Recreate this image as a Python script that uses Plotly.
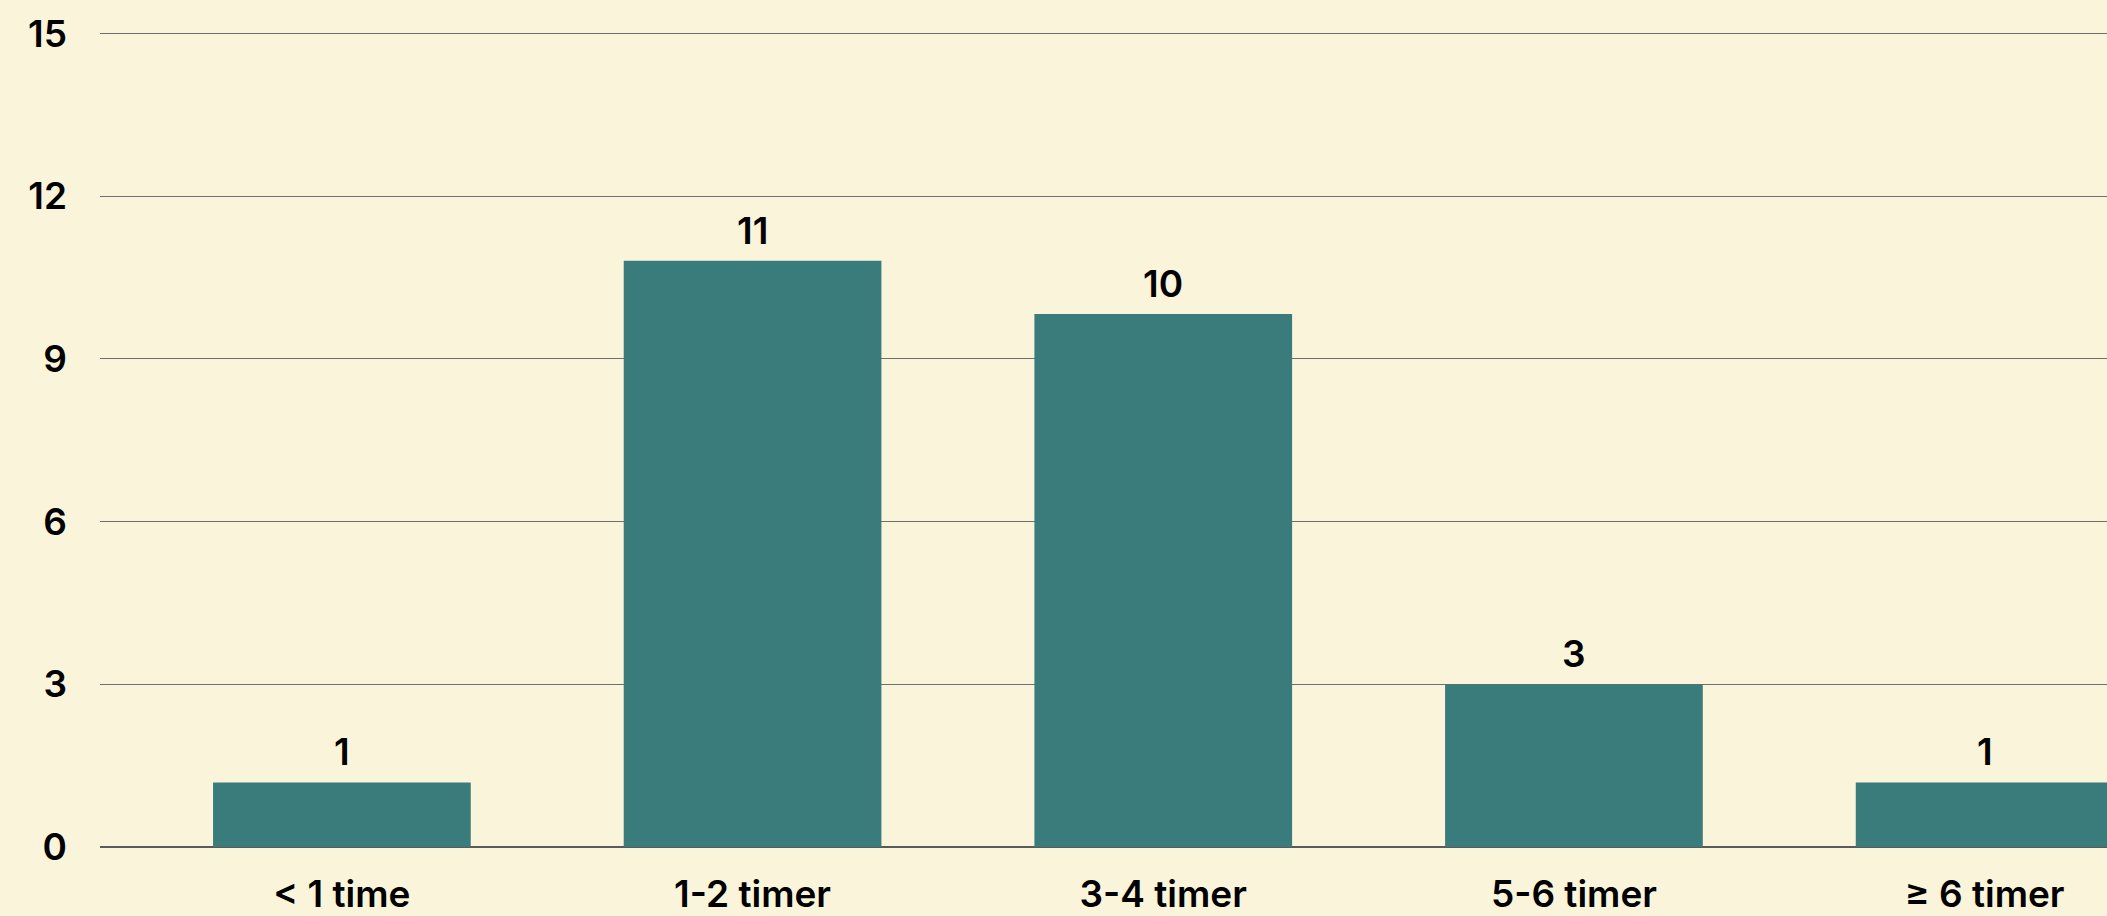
import plotly.graph_objects as go

categories = ["< 1 time", "1-2 timer", "3-4 timer", "5-6 timer", "≥ 6 timer"]
values = [1.19, 10.81, 9.83, 3.0, 1.19]
y_ticks = [0, 3, 6, 9, 12, 15]

BG = "#FAF5DA"
BAR = "#3A7C7C"
FONT = "Inter"
FS = 37

fig = go.Figure(go.Bar(
    x=categories, y=values, marker=dict(color=BAR, line=dict(width=0)),
    hoverinfo="skip",
))

for c, v in zip(categories, values):
    fig.add_annotation(x=c, y=v, text=f"{v:.0f}", showarrow=False,
                       yanchor="bottom", yshift=6,
                       font=dict(family=FONT, size=FS, color="#000000", weight=600))

fig.update_layout(
    width=2107, height=916,
    margin=dict(l=100, r=0, t=32, b=69, pad=0),
    paper_bgcolor=BG, plot_bgcolor=BG,
    bargap=0.3725,
    showlegend=False,
    font=dict(family=FONT, size=FS, color="#000000", weight=600),
    xaxis=dict(range=[-0.589, 4.298], showgrid=False, showline=False,
               ticks="", ticklabelstandoff=22, automargin=False,
               tickfont=dict(family=FONT, size=FS, color="#000000", weight=600)),
    yaxis=dict(range=[0, 15.03], tickvals=y_ticks, showgrid=True,
               gridcolor="#6e6e6e", gridwidth=1, automargin=False,
               zeroline=True, zerolinecolor="#5a5a5a", zerolinewidth=1.5,
               showline=False, ticks="", ticklabelstandoff=32,
               tickfont=dict(family=FONT, size=FS, color="#000000", weight=600)),
)

fig.write_html("out.html")
